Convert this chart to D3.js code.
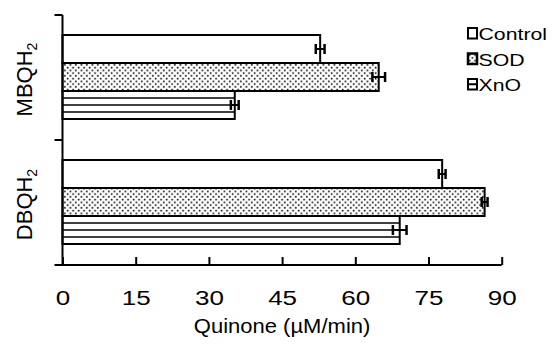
<!DOCTYPE html>
<html>
<head>
<meta charset="utf-8">
<script src="https://cdn.jsdelivr.net/npm/d3@7"></script>
<style>
  body { margin: 0; background: #fff; }
  svg { display: block; }
  text { font-family: "Liberation Sans", Arial, sans-serif; fill: #000; }
</style>
</head>
<body>
<script>
// values (uM/min)
var compounds = ["MBQH", "DBQH"];
var treatments = ["Control", "SOD", "XnO"];
var controlVals = [52.8, 77.8];
var sodVals = [64.8, 86.5];
var xnoVals = [35.3, 69.1];
var controlErr = [0.9, 0.7];
var sodErr = [1.3, 0.6];
var xnoErr = [0.8, 1.4];
var xTicks = [0, 15, 30, 45, 60, 75, 90];

var width = 552, height = 347;
var svg = d3.select("body").append("svg")
  .attr("width", width)
  .attr("height", height);

// the scanned figure has wide lettering, stretch text horizontally
function widen(sel, f) {
  sel.each(function() {
    var w = this.getComputedTextLength();
    d3.select(this).attr("textLength", w * f).attr("lengthAdjust", "spacingAndGlyphs");
  });
}

var defs = svg.append("defs");
var dots = defs.append("pattern")
  .attr("id", "dots")
  .attr("patternUnits", "userSpaceOnUse")
  .attr("width", 5.5)
  .attr("height", 5.5);
dots.append("rect").attr("width", 5.5).attr("height", 5.5).attr("fill", "#fff");
dots.append("rect").attr("x", 0.8).attr("y", 0.8).attr("width", 1.6).attr("height", 1.6).attr("fill", "#000");
dots.append("rect").attr("x", 3.55).attr("y", 3.55).attr("width", 1.6).attr("height", 1.6).attr("fill", "#000");

var x = d3.scaleLinear().domain([0, 90]).range([62.5, 501.7]);
var y = d3.scaleBand().domain(compounds).range([15, 265]);
var yInner = d3.scaleBand().domain(treatments).range([20, 104]);

var rows = [];
compounds.forEach(function(c, i) {
  rows.push({c: c, t: "Control", v: controlVals[i], e: controlErr[i]});
  rows.push({c: c, t: "SOD", v: sodVals[i], e: sodErr[i]});
  rows.push({c: c, t: "XnO", v: xnoVals[i], e: xnoErr[i]});
});

function barTop(d) { return y(d.c) + yInner(d.t); }
var bh = yInner.bandwidth();

var bars = svg.append("g");
bars.selectAll("rect")
  .data(rows)
  .enter()
  .append("rect")
  .attr("x", x(0))
  .attr("y", barTop)
  .attr("width", function(d) { return x(d.v) - x(0); })
  .attr("height", bh)
  .attr("fill", function(d) { return d.t == "SOD" ? "url(#dots)" : "#fff"; })
  .attr("stroke", "#000")
  .attr("stroke-width", 2);

// stripes inside XnO bars
var stripes = [];
rows.filter(function(d) { return d.t == "XnO"; }).forEach(function(d) {
  for (var k = 1; k < 4; k++) stripes.push({d: d, k: k});
});
bars.selectAll("line.stripe")
  .data(stripes)
  .enter()
  .append("line")
  .attr("class", "stripe")
  .attr("x1", x(0))
  .attr("x2", function(s) { return x(s.d.v); })
  .attr("y1", function(s) { return barTop(s.d) + s.k * bh / 4; })
  .attr("y2", function(s) { return barTop(s.d) + s.k * bh / 4; })
  .attr("stroke", "#000")
  .attr("stroke-width", 1.6);

// error bars
var err = svg.append("g").attr("stroke", "#000");
var eg = err.selectAll("g")
  .data(rows)
  .enter()
  .append("g");
eg.append("line")
  .attr("x1", function(d) { return x(d.v - d.e); })
  .attr("x2", function(d) { return x(d.v + d.e); })
  .attr("y1", function(d) { return barTop(d) + bh / 2; })
  .attr("y2", function(d) { return barTop(d) + bh / 2; })
  .attr("stroke-width", 2);
[-1, 1].forEach(function(sgn) {
  eg.append("line")
    .attr("x1", function(d) { return x(d.v + sgn * d.e); })
    .attr("x2", function(d) { return x(d.v + sgn * d.e); })
    .attr("y1", function(d) { return barTop(d) + bh / 2 - 5; })
    .attr("y2", function(d) { return barTop(d) + bh / 2 + 5; })
    .attr("stroke-width", 2.5);
});

// x axis, ticks pointing inward
var xAxis = svg.append("g")
  .attr("transform", "translate(0,265)")
  .call(d3.axisBottom(x).tickValues(xTicks).tickSizeInner(-8).tickSizeOuter(0).tickPadding(26));
xAxis.select(".domain").attr("d", "M57,0H" + x(90)).attr("stroke-width", 2);
xAxis.selectAll(".tick line").attr("stroke-width", 2);
xAxis.selectAll(".tick text")
  .style("font-size", "20px")
  .style("font-family", "'Liberation Sans', Arial, sans-serif")
  .call(widen, 1.3);

// y axis with ticks at group boundaries
var yAxis = svg.append("g").attr("stroke", "#000").attr("stroke-width", 2);
yAxis.append("line")
  .attr("x1", x(0)).attr("x2", x(0))
  .attr("y1", y.range()[0]).attr("y2", y.range()[1]);
var bounds = compounds.map(function(c) { return y(c); }).concat([y.range()[1]]);
yAxis.selectAll("line.tk")
  .data(bounds)
  .enter()
  .append("line")
  .attr("class", "tk")
  .attr("x1", x(0) - 8).attr("x2", x(0))
  .attr("y1", function(d) { return d; })
  .attr("y2", function(d) { return d; });

// y category labels with subscript 2
var yl = svg.selectAll("text.ylab")
  .data(compounds)
  .enter()
  .append("text")
  .attr("class", "ylab")
  .attr("text-anchor", "middle")
  .attr("transform", function(c) { return "translate(32," + (y(c) + y.bandwidth() / 2 + 2) + ") rotate(-90)"; })
  .style("font-size", "22px");
yl.append("tspan").text(function(c) { return c; });
yl.append("tspan").attr("dy", 5).style("font-size", "14px").text("2");

// axis title
svg.append("text")
  .attr("x", (x(0) + x(90)) / 2)
  .attr("y", 333)
  .attr("text-anchor", "middle")
  .style("font-size", "20px")
  .text("Quinone (\u00b5M/min)")
  .call(widen, 1.1);

// legend
var legend = svg.append("g").attr("transform", "translate(468,28)");
var li = legend.selectAll("g")
  .data(treatments)
  .enter()
  .append("g")
  .attr("transform", function(d, i) { return "translate(0," + i * 25.5 + ")"; });
li.append("rect")
  .attr("width", 9).attr("height", 10.5)
  .attr("fill", function(d) { return d == "SOD" ? "url(#dots)" : "#fff"; })
  .attr("stroke", "#000")
  .attr("stroke-width", function(d) { return d == "SOD" ? 2.5 : 2; });
li.filter(function(d) { return d == "XnO"; })
  .append("line")
  .attr("x1", 0).attr("x2", 9).attr("y1", 5.25).attr("y2", 5.25)
  .attr("stroke", "#000").attr("stroke-width", 2);
li.append("text")
  .attr("x", 10.5)
  .attr("y", 12)
  .style("font-size", "17px")
  .text(function(d) { return d; })
  .call(widen, 1.25);
</script>
</body>
</html>
